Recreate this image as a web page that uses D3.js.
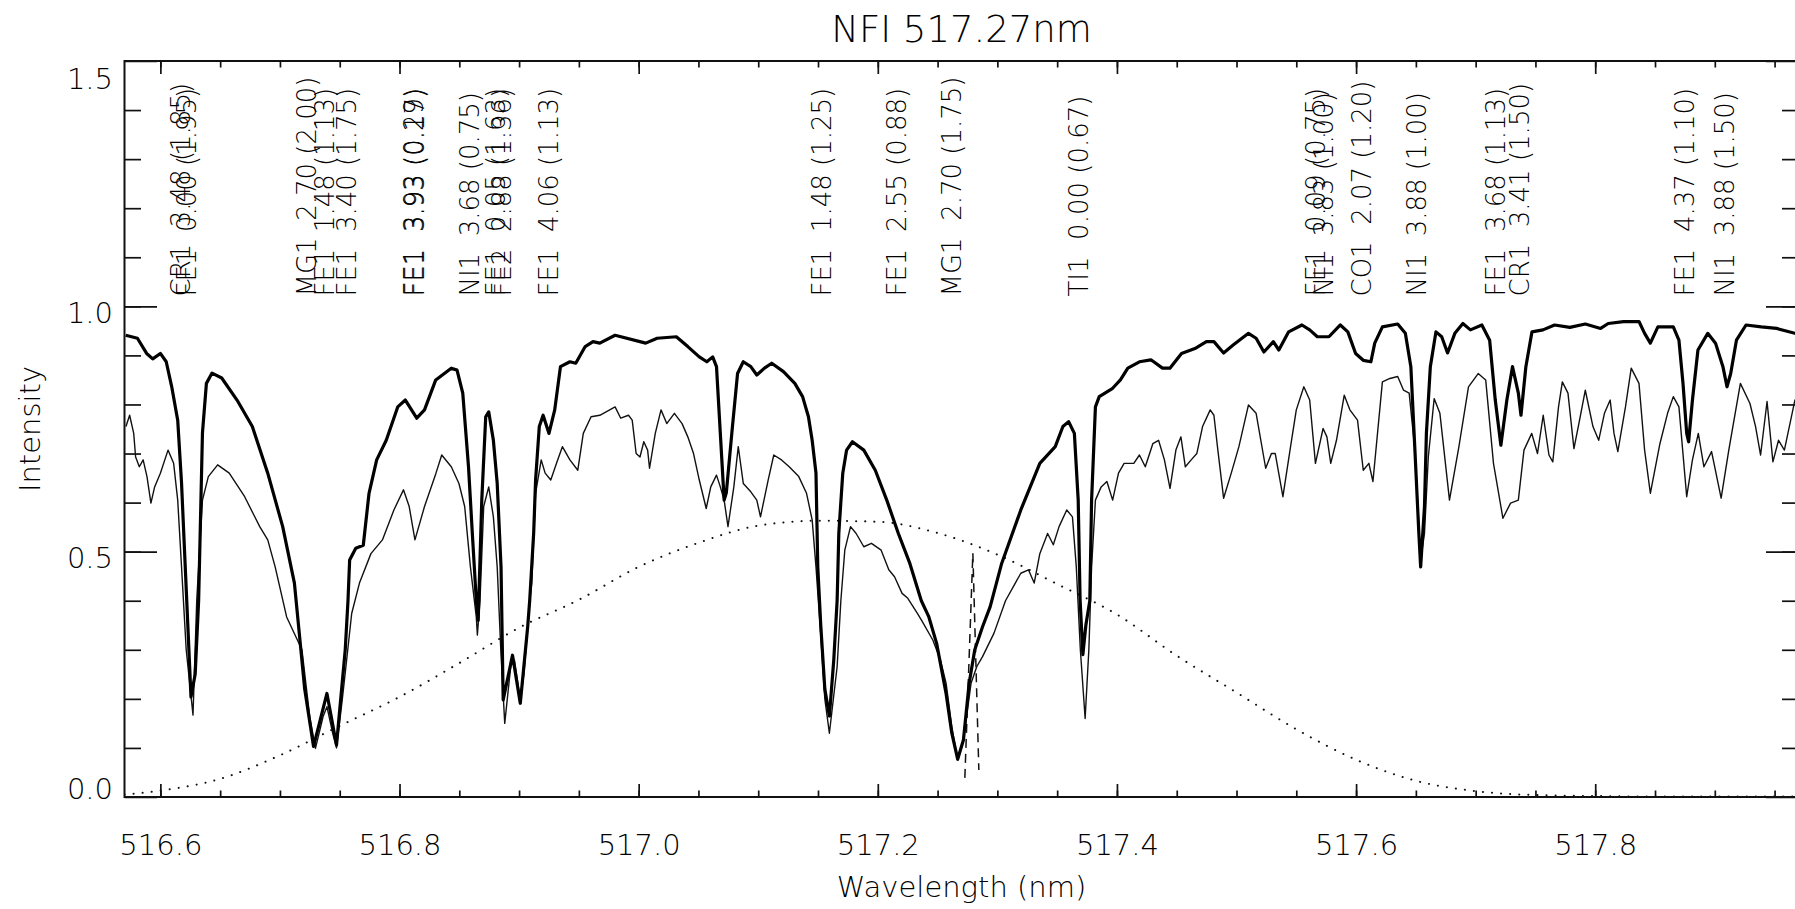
<!DOCTYPE html>
<html>
<head>
<meta charset="utf-8">
<script src="https://cdn.jsdelivr.net/npm/d3@7"></script>
<style>
  html, body { margin: 0; padding: 0; background: #fff; }
  svg { display: block; }
  text { font-family: "DejaVu Sans", sans-serif; font-weight: 200; fill: #000; }
</style>
</head>
<body>
<svg id="chart" width="1795" height="909"></svg>
<script>
// ---------------------------------------------------------------
// NFI 517.27 nm : spectra, filter transmission and line list
// ---------------------------------------------------------------

// Heavy curve: disk-centre atlas intensity [wavelength nm, intensity]
const atlas = [
  [516.5710,0.941],[516.5808,0.935],[516.5885,0.904],[516.5936,0.893],[516.6000,0.904],[516.6049,0.887],
  [516.6095,0.836],[516.6145,0.768],[516.6177,0.640],[516.6208,0.469],[516.6256,0.204],[516.6291,0.250],
  [516.6320,0.400],[516.6352,0.742],[516.6385,0.843],[516.6432,0.864],[516.6513,0.854],[516.6641,0.809],
  [516.6769,0.755],[516.6898,0.660],[516.7023,0.551],[516.7121,0.436],[516.7207,0.220],[516.7281,0.103],
  [516.7393,0.211],[516.7473,0.106],[516.7546,0.300],[516.7569,0.400],[516.7583,0.483],[516.7634,0.507],
  [516.7697,0.513],[516.7745,0.619],[516.7809,0.687],[516.7889,0.727],[516.7985,0.795],[516.8049,0.809],
  [516.8144,0.772],[516.8209,0.789],[516.8303,0.850],[516.8433,0.874],[516.8481,0.870],[516.8529,0.823],
  [516.8577,0.673],[516.8609,0.537],[516.8642,0.401],[516.8658,0.360],[516.8688,0.605],[516.8721,0.775],
  [516.8746,0.785],[516.8785,0.727],[516.8817,0.639],[516.8849,0.469],[516.8867,0.198],[516.8945,0.289],
  [516.9010,0.191],[516.9072,0.347],[516.9089,0.401],[516.9122,0.538],[516.9138,0.646],[516.9169,0.755],
  [516.9201,0.778],[516.9250,0.741],[516.9298,0.789],[516.9346,0.877],[516.9425,0.887],[516.9474,0.884],
  [516.9553,0.918],[516.9618,0.928],[516.9675,0.925],[516.9803,0.941],[517.0059,0.925],[517.0155,0.935],
  [517.0315,0.938],[517.0411,0.918],[517.0507,0.897],[517.0570,0.887],[517.0619,0.897],[517.0651,0.877],
  [517.0683,0.741],[517.0715,0.605],[517.0733,0.620],[517.0779,0.741],[517.0827,0.863],[517.0875,0.887],
  [517.0938,0.877],[517.0988,0.860],[517.1052,0.874],[517.1113,0.884],[517.1211,0.867],[517.1306,0.843],
  [517.1371,0.816],[517.1420,0.775],[517.1451,0.727],[517.1483,0.660],[517.1498,0.469],[517.1523,0.350],
  [517.1557,0.220],[517.1595,0.165],[517.1632,0.280],[517.1660,0.401],[517.1674,0.538],[517.1707,0.660],
  [517.1739,0.707],[517.1788,0.724],[517.1883,0.707],[517.1979,0.666],[517.2075,0.605],[517.2172,0.537],
  [517.2268,0.476],[517.2364,0.400],[517.2427,0.367],[517.2492,0.313],[517.2571,0.211],[517.2619,0.130],
  [517.2668,0.077],[517.2716,0.116],[517.2764,0.232],[517.2811,0.300],[517.2876,0.347],[517.2940,0.388],
  [517.3036,0.476],[517.3196,0.585],[517.3355,0.680],[517.3484,0.714],[517.3548,0.755],[517.3596,0.765],
  [517.3644,0.741],[517.3676,0.605],[517.3692,0.401],[517.3715,0.290],[517.3740,0.350],[517.3773,0.400],
  [517.3788,0.605],[517.3820,0.795],[517.3852,0.816],[517.3964,0.833],[517.4029,0.850],[517.4091,0.874],
  [517.4188,0.887],[517.4284,0.891],[517.4381,0.874],[517.4443,0.874],[517.4540,0.904],[517.4652,0.914],
  [517.4748,0.928],[517.4811,0.928],[517.4892,0.905],[517.4972,0.921],[517.5100,0.945],[517.5164,0.935],
  [517.5229,0.907],[517.5308,0.928],[517.5354,0.911],[517.5436,0.948],[517.5547,0.962],[517.5612,0.952],
  [517.5676,0.938],[517.5773,0.938],[517.5868,0.962],[517.5931,0.948],[517.5996,0.904],[517.6060,0.890],
  [517.6124,0.887],[517.6156,0.925],[517.6220,0.958],[517.6348,0.964],[517.6412,0.945],[517.6458,0.877],
  [517.6492,0.707],[517.6525,0.537],[517.6540,0.469],[517.6572,0.592],[517.6588,0.741],[517.6621,0.877],
  [517.6668,0.948],[517.6716,0.938],[517.6765,0.905],[517.6826,0.945],[517.6893,0.965],[517.6956,0.952],
  [517.7052,0.962],[517.7117,0.931],[517.7164,0.809],[517.7211,0.717],[517.7261,0.809],[517.7308,0.877],
  [517.7357,0.823],[517.7379,0.778],[517.7420,0.877],[517.7471,0.948],[517.7563,0.952],[517.7660,0.962],
  [517.7788,0.957],[517.7917,0.964],[517.8045,0.955],[517.8109,0.965],[517.8237,0.969],[517.8366,0.969],
  [517.8413,0.945],[517.8461,0.925],[517.8524,0.958],[517.8653,0.958],[517.8700,0.931],[517.8734,0.843],
  [517.8765,0.741],[517.8781,0.724],[517.8813,0.809],[517.8859,0.911],[517.8941,0.945],[517.9006,0.925],
  [517.9068,0.877],[517.9102,0.836],[517.9133,0.863],[517.9181,0.931],[517.9261,0.962],[517.9389,0.958],
  [517.9517,0.955],[517.9670,0.945],[517.9700,0.943]
];

// Light curve: observed NFI profile [wavelength nm, intensity]
const observed = [
  [516.5712,0.755],[516.5743,0.778],[516.5777,0.741],[516.5793,0.693],[516.5824,0.673],[516.5856,0.687],
  [516.5888,0.653],[516.5921,0.599],[516.5952,0.632],[516.6000,0.660],[516.6064,0.707],[516.6111,0.680],
  [516.6145,0.605],[516.6177,0.469],[516.6216,0.300],[516.6273,0.167],[516.6304,0.400],[516.6320,0.469],
  [516.6352,0.605],[516.6401,0.653],[516.6479,0.677],[516.6576,0.660],[516.6705,0.612],[516.6831,0.551],
  [516.6898,0.524],[516.6960,0.469],[516.7056,0.367],[516.7184,0.300],[516.7249,0.164],[516.7297,0.099],
  [516.7361,0.164],[516.7393,0.184],[516.7441,0.130],[516.7473,0.100],[516.7521,0.198],[516.7552,0.266],
  [516.7600,0.374],[516.7665,0.436],[516.7761,0.496],[516.7857,0.524],[516.7953,0.585],[516.8033,0.626],
  [516.8081,0.592],[516.8129,0.524],[516.8209,0.592],[516.8305,0.660],[516.8353,0.697],[516.8433,0.673],
  [516.8497,0.639],[516.8545,0.592],[516.8593,0.469],[516.8642,0.367],[516.8651,0.330],[516.8673,0.400],
  [516.8704,0.592],[516.8746,0.632],[516.8785,0.571],[516.8817,0.469],[516.8847,0.300],[516.8880,0.150],
  [516.8930,0.266],[516.8961,0.279],[516.9010,0.198],[516.9041,0.252],[516.9089,0.400],[516.9106,0.436],
  [516.9138,0.619],[516.9185,0.687],[516.9218,0.660],[516.9265,0.646],[516.9313,0.680],[516.9362,0.714],
  [516.9425,0.687],[516.9491,0.666],[516.9537,0.741],[516.9602,0.775],[516.9675,0.778],[516.9803,0.795],
  [516.9850,0.772],[516.9915,0.778],[516.9946,0.768],[516.9979,0.700],[517.0011,0.693],[517.0043,0.724],
  [517.0075,0.707],[517.0091,0.670],[517.0139,0.741],[517.0187,0.789],[517.0235,0.761],[517.0299,0.782],
  [517.0363,0.761],[517.0411,0.734],[517.0459,0.700],[517.0507,0.646],[517.0565,0.588],[517.0603,0.632],
  [517.0651,0.656],[517.0683,0.632],[517.0715,0.605],[517.0747,0.551],[517.0796,0.632],[517.0833,0.714],
  [517.0875,0.639],[517.0938,0.622],[517.0988,0.605],[517.1019,0.571],[517.1083,0.646],[517.1130,0.697],
  [517.1195,0.687],[517.1259,0.673],[517.1339,0.653],[517.1404,0.619],[517.1451,0.565],[517.1483,0.469],
  [517.1523,0.330],[517.1557,0.200],[517.1595,0.130],[517.1660,0.266],[517.1691,0.400],[517.1724,0.503],
  [517.1772,0.551],[517.1819,0.537],[517.1883,0.510],[517.1947,0.517],[517.2028,0.503],[517.2092,0.463],
  [517.2140,0.449],[517.2203,0.415],[517.2251,0.405],[517.2331,0.374],[517.2364,0.361],[517.2460,0.320],
  [517.2524,0.279],[517.2571,0.232],[517.2619,0.143],[517.2668,0.075],[517.2716,0.116],[517.2780,0.232],
  [517.2828,0.266],[517.2876,0.286],[517.2972,0.334],[517.3068,0.400],[517.3196,0.456],[517.3260,0.463],
  [517.3308,0.436],[517.3355,0.496],[517.3420,0.537],[517.3468,0.514],[517.3516,0.551],[517.3580,0.585],
  [517.3628,0.571],[517.3660,0.469],[517.3694,0.300],[517.3734,0.160],[517.3765,0.300],[517.3788,0.469],
  [517.3820,0.605],[517.3868,0.632],[517.3916,0.643],[517.3964,0.605],[517.4013,0.660],[517.4060,0.680],
  [517.4141,0.680],[517.4188,0.697],[517.4237,0.673],[517.4300,0.720],[517.4348,0.727],[517.4397,0.687],
  [517.4444,0.629],[517.4493,0.707],[517.4535,0.734],[517.4572,0.673],[517.4621,0.687],[517.4668,0.700],
  [517.4716,0.755],[517.4780,0.789],[517.4811,0.778],[517.4844,0.707],[517.4892,0.609],[517.4956,0.660],
  [517.5020,0.714],[517.5100,0.799],[517.5164,0.782],[517.5244,0.670],[517.5292,0.700],[517.5324,0.700],
  [517.5388,0.612],[517.5452,0.714],[517.5500,0.789],[517.5563,0.836],[517.5612,0.809],[517.5660,0.680],
  [517.5724,0.751],[517.5756,0.734],[517.5788,0.680],[517.5836,0.727],[517.5901,0.819],[517.5948,0.789],
  [517.6012,0.768],[517.6060,0.666],[517.6107,0.680],[517.6141,0.643],[517.6220,0.846],[517.6283,0.853],
  [517.6348,0.857],[517.6397,0.829],[517.6444,0.823],[517.6492,0.707],[517.6540,0.483],[517.6572,0.537],
  [517.6604,0.693],[517.6653,0.812],[517.6701,0.782],[517.6781,0.605],[517.6860,0.714],[517.6940,0.836],
  [517.7021,0.863],[517.7084,0.850],[517.7149,0.680],[517.7228,0.568],[517.7292,0.599],[517.7357,0.605],
  [517.7404,0.707],[517.7469,0.741],[517.7517,0.700],[517.7565,0.778],[517.7613,0.697],[517.7645,0.683],
  [517.7693,0.795],[517.7725,0.846],[517.7772,0.823],[517.7822,0.710],[517.7869,0.768],[517.7917,0.829],
  [517.7981,0.755],[517.8029,0.727],[517.8077,0.782],[517.8125,0.809],[517.8157,0.741],[517.8189,0.704],
  [517.8253,0.795],[517.8301,0.874],[517.8366,0.843],[517.8413,0.707],[517.8461,0.619],[517.8541,0.720],
  [517.8605,0.782],[517.8653,0.816],[517.8700,0.795],[517.8765,0.612],[517.8813,0.687],[517.8862,0.741],
  [517.8909,0.673],[517.8973,0.704],[517.9053,0.609],[517.9117,0.707],[517.9214,0.843],[517.9294,0.802],
  [517.9341,0.755],[517.9383,0.697],[517.9437,0.806],[517.9486,0.683],[517.9533,0.727],[517.9582,0.707],
  [517.9670,0.809],[517.9700,0.800]
];

// Filter transmission profile (dotted)
const filterWl = [516.57,516.60,516.65,516.70,516.75,516.80,516.85,516.90,516.95,517.00,517.05,517.10,517.15,
                  517.20,517.25,517.30,517.35,517.40,517.45,517.50,517.55,517.60,517.65,517.70,517.75,517.80,
                  517.85,517.90,517.97];
const filterT  = [0.005,0.013,0.037,0.085,0.145,0.204,0.273,0.345,0.402,0.469,0.518,0.553,0.563,
                  0.561,0.538,0.494,0.434,0.372,0.288,0.213,0.138,0.076,0.033,0.012,0.004,0.002,
                  0.001,0.001,0.001];

// Line-centre marker (dashed)
const markWl = [517.2728, 517.2795, 517.2845];
const markI  = [0.039, 0.497, 0.055];

// Line identifications: wavelength, species, excitation potential, strength
const lineWl  = [516.6245,516.6295,516.7300,516.7450,516.7640,516.8200,516.8208,516.8667,516.8885,516.8934,
                 516.9323,517.1610,517.2234,517.2694,517.3757,517.5740,517.5810,517.6125,517.6584,517.7245,
                 517.7450,517.8827,517.9160];
const lineId  = ["CR1","FE1","MG1","FE1","FE1","FE1","FE1","NI1","FE1","FE2",
                 "FE1","FE1","FE1","MG1","TI1","FE1","NI1","CO1","NI1","FE1",
                 "CR1","FE1","NI1"];
const lineChi = ["3.48","0.00","2.70","1.48","3.40","3.93","3.93","3.68","0.05","2.88",
                 "4.06","1.48","2.55","2.70","0.00","0.09","3.83","2.07","3.88","3.68",
                 "3.41","4.37","3.88"];
const lineStr = ["1.85","1.95","2.00","1.13","1.75","0.29","0.17","0.75","1.63","1.36",
                 "1.13","1.25","0.88","1.75","0.67","0.75","1.00","1.20","1.00","1.13",
                 "1.50","1.10","1.50"];
const labelLevel = 1.02;   // intensity at which the identifications start

// Axis ticks
const xMajor = [516.6, 516.8, 517.0, 517.2, 517.4, 517.6, 517.8];
const xMinor = d3.range(516.60, 517.96, 0.05);
const yMajor = [0.0, 0.5, 1.0, 1.5];
const yMinor = d3.range(0.1, 1.45, 0.1);

const titleText  = "NFI 517.27nm";
const xTitleText = "Wavelength (nm)";
const yTitleText = "Intensity";

// ---------------------------------------------------------------
const box = { left: 124.5, right: 1798.5, top: 61, bottom: 797 };

const svg = d3.select("#chart");
const x = d3.scaleLinear().domain([516.57, 517.97]).range([box.left, box.right]);
const y = d3.scaleLinear().domain([0, 1.5]).range([box.bottom, box.top]);

svg.append("defs").append("clipPath").attr("id", "plotClip")
  .append("rect")
  .attr("x", box.left).attr("y", box.top)
  .attr("width", box.right - box.left).attr("height", box.bottom - box.top);

const tickStroke = 1.7;
function styleAxis(g) {
  g.select(".domain").remove();
  g.selectAll(".tick line").attr("stroke", "#111").attr("stroke-width", tickStroke);
}
function styleLabels(sel) {
  sel.attr("font-size", 29)
     .attr("font-family", "DejaVu Sans")
     .attr("font-weight", 200)
     .attr("fill", "#000");
}

// bottom axis
svg.append("g").attr("transform", `translate(0,${box.bottom})`)
  .call(d3.axisBottom(x).tickValues(xMinor).tickSizeInner(-6.5).tickSizeOuter(0).tickFormat(""))
  .call(styleAxis);
const gBottomMaj = svg.append("g").attr("transform", `translate(0,${box.bottom})`);
gBottomMaj.call(d3.axisBottom(x).tickValues(xMajor).tickSizeInner(-13).tickSizeOuter(0).tickFormat(d3.format(".1f")))
  .call(styleAxis);
gBottomMaj.selectAll(".tick text").attr("y", 58).attr("dy", 0).call(styleLabels);

// top axis
svg.append("g").attr("transform", `translate(0,${box.top})`)
  .call(d3.axisTop(x).tickValues(xMinor).tickSizeInner(-6.5).tickSizeOuter(0).tickFormat(""))
  .call(styleAxis);
svg.append("g").attr("transform", `translate(0,${box.top})`)
  .call(d3.axisTop(x).tickValues(xMajor).tickSizeInner(-13).tickSizeOuter(0).tickFormat(""))
  .call(styleAxis);

// left axis
svg.append("g").attr("transform", `translate(${box.left},0)`)
  .call(d3.axisLeft(y).tickValues(yMinor).tickSizeInner(-16.5).tickSizeOuter(0).tickFormat(""))
  .call(styleAxis);
const gLeftMaj = svg.append("g").attr("transform", `translate(${box.left},0)`);
gLeftMaj.call(d3.axisLeft(y).tickValues(yMajor).tickSizeInner(-32.5).tickSizeOuter(0).tickFormat(d3.format(".1f")))
  .call(styleAxis);
gLeftMaj.selectAll(".tick text")
  .attr("x", -11.5)
  .attr("dy", 0)
  .attr("y", d => d === 0 ? 1.5 : (d === 1.5 ? 27.5 : 16.2))
  .attr("text-anchor", "end")
  .call(styleLabels);

// right axis
svg.append("g").attr("transform", `translate(${box.right},0)`)
  .call(d3.axisRight(y).tickValues(yMinor).tickSizeInner(-16.5).tickSizeOuter(0).tickFormat(""))
  .call(styleAxis);
svg.append("g").attr("transform", `translate(${box.right},0)`)
  .call(d3.axisRight(y).tickValues(yMajor).tickSizeInner(-32.5).tickSizeOuter(0).tickFormat(""))
  .call(styleAxis);

// frame
svg.append("rect")
  .attr("x", box.left).attr("y", box.top)
  .attr("width", box.right - box.left).attr("height", box.bottom - box.top)
  .attr("fill", "none").attr("stroke", "#111").attr("stroke-width", 2);

// curves
const plotG = svg.append("g").attr("clip-path", "url(#plotClip)");
const line = d3.line().x(d => x(d[0])).y(d => y(d[1]));

plotG.append("path").datum(d3.zip(filterWl, filterT))
  .attr("d", d3.line().x(d => x(d[0])).y(d => y(d[1])).curve(d3.curveMonotoneX))
  .attr("fill", "none").attr("stroke", "#111").attr("stroke-width", 2)
  .attr("stroke-linecap", "round").attr("stroke-dasharray", "0.1 9");

plotG.append("path").datum(d3.zip(markWl, markI))
  .attr("d", line)
  .attr("fill", "none").attr("stroke", "#111").attr("stroke-width", 1.5)
  .attr("stroke-dasharray", "9 6");

plotG.append("path").datum(observed)
  .attr("d", line)
  .attr("fill", "none").attr("stroke", "#111").attr("stroke-width", 1.4)
  .attr("stroke-linejoin", "round");

plotG.append("path").datum(atlas)
  .attr("d", line)
  .attr("fill", "none").attr("stroke", "#000").attr("stroke-width", 3.2)
  .attr("stroke-linejoin", "round");

// line identifications
const idG = svg.append("g");
lineWl.forEach((wl, i) => {
  idG.append("text")
    .attr("transform", `translate(${x(wl)},${y(labelLevel)}) rotate(-90)`)
    .attr("text-anchor", "start")
    .attr("font-size", 26)
    .style("white-space", "pre")
    .text(`${lineId[i]}  ${lineChi[i]} (${lineStr[i]})`);
});

// titles
const cx = (box.left + box.right) / 2;
svg.append("text").attr("x", cx).attr("y", 41.5)
  .attr("text-anchor", "middle").attr("font-size", 37).text(titleText);
svg.append("text").attr("x", cx).attr("y", 897)
  .attr("text-anchor", "middle").attr("font-size", 29).text(xTitleText);
svg.append("text")
  .attr("transform", `translate(40,${(box.top + box.bottom) / 2}) rotate(-90)`)
  .attr("text-anchor", "middle").attr("font-size", 29).text(yTitleText);
</script>
</body>
</html>
